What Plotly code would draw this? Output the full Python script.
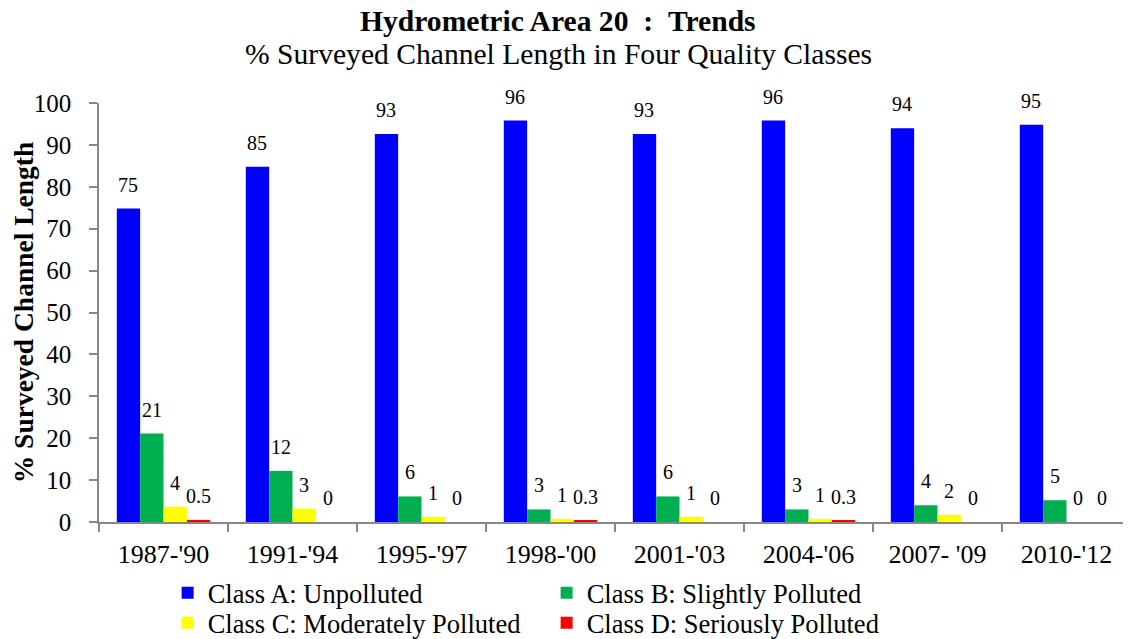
import numpy as np
import plotly.graph_objects as go

categories = ["1987-'90", "1991-'94", "1995-'97", "1998-'00", "2001-'03", "2004-'06", "2007- '09", "2010-'12"]

class_a = [74.8, 84.8, 92.6, 95.8, 92.6, 95.8, 94.0, 94.8]
class_b = [21.1, 12.2, 6.1, 3.0, 6.1, 3.0, 4.0, 5.2]
class_c = [3.6, 3.2, 1.2, 0.7, 1.2, 0.7, 1.7, 0.0]
class_d = [0.5, 0.0, 0.0, 0.3, 0.0, 0.3, 0.0, 0.0]

labels_a = ["75", "85", "93", "96", "93", "96", "94", "95"]
labels_b = ["21", "12", "6", "3", "6", "3", "4", "5"]
labels_c = ["4", "3", "1", "1", "1", "1", "2", "0"]
labels_d = ["0.5", "0", "0", "0.3", "0", "0.3", "0", "0"]

series_names = ["Class A: Unpolluted", "Class B: Slightly Polluted",
                "Class C: Moderately Polluted", "Class D: Seriously Polluted"]
series_values = [class_a, class_b, class_c, class_d]
series_labels = [labels_a, labels_b, labels_c, labels_d]
colors = ["#0000FF", "#00B050", "#FFFF00", "#FF0000"]
legend_ids = ["legend", "legend", "legend2", "legend2"]

FONT = "Liberation Serif, Times New Roman, serif"
bar_w = 0.181
idx = np.arange(len(categories))

fig = go.Figure()
annotations = []
for k, (name, vals, labs, col, lg) in enumerate(zip(series_names, series_values, series_labels, colors, legend_ids)):
    xpos = idx + (k - 1.5) * bar_w
    fig.add_trace(go.Bar(
        x=xpos, y=vals, width=bar_w, name=name, legend=lg,
        marker=dict(color=col, line=dict(width=0)),
        hoverinfo="y+name",
    ))
    for xp, v, t in zip(xpos, vals, labs):
        annotations.append(dict(
            x=xp, y=v, xref="x", yref="y", text=t, showarrow=False,
            yshift=24, yanchor="middle", xanchor="center",
            font=dict(family=FONT, size=20, color="black"),
        ))

annotations.append(dict(
    x=0.4448, y=1.195, xref="paper", yref="paper", showarrow=False,
    text="<b>Hydrometric Area 20&nbsp;&nbsp;:&nbsp;&nbsp;Trends</b>",
    xanchor="center", yanchor="middle",
    font=dict(family=FONT, size=29.6, color="black"),
))
annotations.append(dict(
    x=0.4448, y=1.116, xref="paper", yref="paper", showarrow=False,
    text="% Surveyed Channel Length in Four Quality Classes",
    xanchor="center", yanchor="middle",
    font=dict(family=FONT, size=29.6, color="black"),
))

legend_common = dict(
    orientation="h", xanchor="left", yanchor="middle",
    entrywidth=334, entrywidthmode="pixels",
    font=dict(family=FONT, size=26.5, color="black"),
    bgcolor="rgba(0,0,0,0)", traceorder="normal",
    itemclick=False, itemdoubleclick=False,
)

fig.update_layout(
    width=1131, height=639,
    margin=dict(l=91, r=8, t=95, b=125, autoexpand=False),
    paper_bgcolor="white", plot_bgcolor="white",
    barmode="overlay",
    showlegend=True,
    font=dict(family=FONT, color="black"),
    annotations=annotations,
    legend=dict(x=0.0665, y=-0.1695, **legend_common),
    legend2=dict(x=0.0665, y=-0.241, **legend_common),
    xaxis=dict(
        range=[-0.5, 7.5], tickmode="array", tickvals=list(idx), ticktext=categories,
        ticks="", showgrid=False, zeroline=False, automargin=False,
        showline=True, linecolor="#888888", linewidth=1.5,
        tickfont=dict(family=FONT, size=26, color="black"),
        ticklabelstandoff=8,
        minor=dict(tickmode="array", tickvals=list(idx - 0.5) + [7.5], ticks="outside",
                   ticklen=8, tickwidth=1.5, tickcolor="#888888", showgrid=False),
    ),
    yaxis=dict(
        range=[0, 100], tick0=0, dtick=10, ticks="outside", ticklen=8, tickwidth=1.5,
        tickcolor="#888888", showgrid=False, zeroline=False, automargin=False,
        showline=True, linecolor="#888888", linewidth=1.5,
        tickfont=dict(family=FONT, size=25, color="black"),
        ticklabelstandoff=13,
        title=dict(text="<b>% Surveyed Channel Length</b>", standoff=0,
                   font=dict(family=FONT, size=27.5, color="black")),
    ),
)

fig.write_html("out.html")
